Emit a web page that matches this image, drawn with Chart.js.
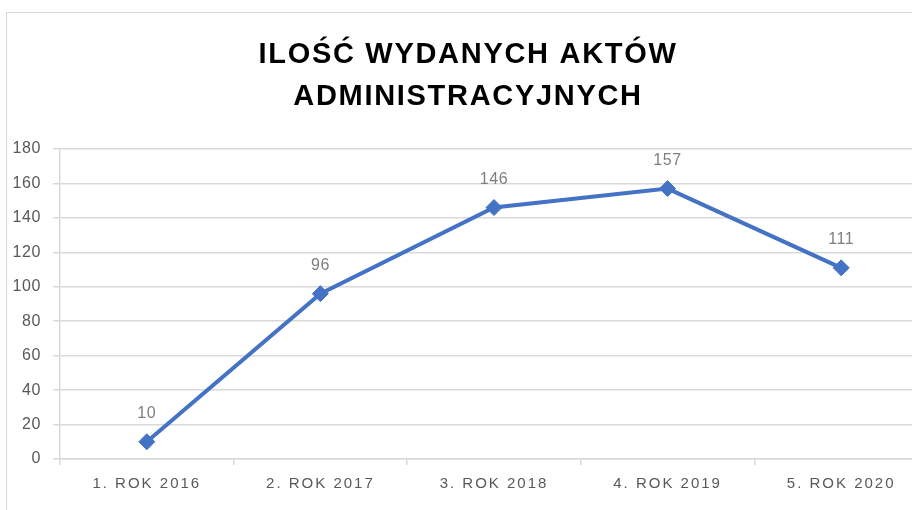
<!DOCTYPE html>
<html>
<head>
<meta charset="utf-8">
<script src="https://cdn.jsdelivr.net/npm/chart.js@4.4.1/dist/chart.umd.min.js"></script>
<style>
html,body{margin:0;padding:0;background:#fff;overflow:hidden;width:912px;height:510px;}
#frame{position:absolute;left:6px;top:12px;width:1000px;height:600px;border-left:1px solid #d9d9d9;border-top:1px solid #d9d9d9;}
canvas{position:absolute;left:0;top:0;}
</style>
</head>
<body>
<div id="frame"><canvas id="c" width="924" height="497"></canvas></div>
<script>
const categories = ["1. ROK 2016", "2. ROK 2017", "3. ROK 2018", "4. ROK 2019", "5. ROK 2020"];
const values = [10, 96, 146, 157, 111];
const titleLines = ["ILOŚĆ WYDANYCH AKTÓW", "ADMINISTRACYJNYCH"];
const yTicks = [0, 20, 40, 60, 80, 100, 120, 140, 160, 180];

const FONT = '"Liberation Sans", Arial, sans-serif';

function withSpacing(obj, name, sp) {
  const orig = obj[name];
  if (!orig || orig.__spaced) return;
  const fn = function () {
    const ctx = this.ctx;
    const prev = ctx.letterSpacing;
    ctx.letterSpacing = sp;
    try { return orig.apply(this, arguments); } finally { ctx.letterSpacing = prev || '0px'; }
  };
  fn.__spaced = true;
  obj[name] = fn;
}

const spacing = {
  id: 'spacing',
  afterLayout(chart) {
    if (chart.titleBlock) withSpacing(chart.titleBlock, 'draw', '1.7px');
    withSpacing(chart.scales.x, 'drawLabels', '2px');
    withSpacing(chart.scales.y, 'drawLabels', '0.6px');
  }
};

const dataLabels = {
  id: 'dataLabels',
  afterDatasetsDraw(chart) {
    const ctx = chart.ctx;
    const meta = chart.getDatasetMeta(0);
    ctx.save();
    ctx.letterSpacing = '0.6px';
    ctx.font = '16px ' + FONT;
    ctx.fillStyle = '#7f7f7f';
    ctx.textAlign = 'center';
    ctx.textBaseline = 'middle';
    meta.data.forEach((pt, i) => {
      ctx.fillText(String(values[i]), pt.x, pt.y - 28);
    });
    ctx.restore();
  }
};

const chart = new Chart(document.getElementById('c'), {
  type: 'line',
  data: {
    labels: categories,
    datasets: [{
      data: values,
      borderColor: '#4472C4',
      backgroundColor: '#4472C4',
      borderWidth: 4,
      pointStyle: 'rectRot',
      pointRadius: 8,
      pointHoverRadius: 8,
      pointBorderWidth: 1,
      tension: 0,
      fill: false
    }]
  },
  options: {
    responsive: false,
    animation: false,
    layout: { autoPadding: false, padding: { left: 1, right: 3, top: 0, bottom: 0 } },
    plugins: {
      legend: { display: false },
      tooltip: { enabled: false },
      title: {
        display: true,
        text: titleLines,
        color: '#000',
        font: { family: FONT, size: 29, weight: 'bold', lineHeight: '42px' },
        padding: { top: 21, bottom: 31 }
      }
    },
    scales: {
      x: {
        offset: true,
        grid: { offset: true, drawOnChartArea: false, drawTicks: true, tickLength: 6, color: '#d9d9d9', lineWidth: 1.5 },
        border: { display: true, color: '#d9d9d9', width: 1.5 },
        ticks: { color: '#595959', font: { family: FONT, size: 15 }, padding: 10, maxRotation: 0 },
        afterFit(s) { s.height = 51; s.paddingLeft = 0; s.paddingRight = 0; }
      },
      y: {
        min: 0, max: 180,
        afterBuildTicks(s) { s.ticks = yTicks.map(v => ({ value: v })); },
        grid: { color: '#d9d9d9', lineWidth: 1.5, tickLength: 7 },
        border: { display: true, color: '#d9d9d9', width: 1.5 },
        ticks: { color: '#595959', font: { family: FONT, size: 16 }, padding: 12 },
        afterFit(s) { s.width = 52; }
      }
    }
  },
  plugins: [spacing, dataLabels]
});
</script>
</body>
</html>
